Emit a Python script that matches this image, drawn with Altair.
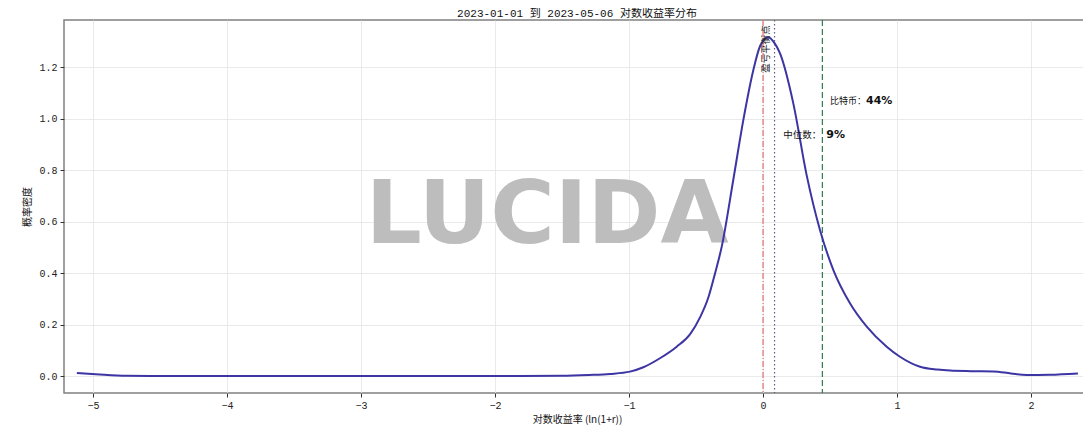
import altair as alt
import pandas as pd

# ---- data ----
curve_x = [-5.12, -4.95, -4.75, -4.5, -3.0, -2.0, -1.5, -1.3, -1.142, -0.993, -0.893, -0.769,
           -0.644, -0.545, -0.47, -0.408, -0.358, -0.308, -0.222, -0.147, -0.072, -0.02, 0.04,
           0.085, 0.127, 0.226, 0.326, 0.425, 0.525, 0.649, 0.774, 0.923, 1.022, 1.172, 1.3,
           1.396, 1.55, 1.72, 1.85, 1.968, 2.14, 2.35]
curve_y = [0.012, 0.006, 0.001, 0.0, 0.0, 0.0, 0.001, 0.004, 0.008, 0.017, 0.034, 0.069,
           0.114, 0.162, 0.228, 0.305, 0.399, 0.503, 0.762, 0.995, 1.19, 1.285, 1.317,
           1.295, 1.254, 1.06, 0.78, 0.568, 0.412, 0.283, 0.192, 0.114, 0.075, 0.036, 0.025,
           0.021, 0.019, 0.018, 0.01, 0.004, 0.005, 0.01]

zero_x = [0.0]
median_x = [0.086]
btc_x = [0.443]

x_ticks = [-5, -4, -3, -2, -1, 0, 1, 2]
y_ticks = [0.0, 0.2, 0.4, 0.6, 0.8, 1.0, 1.2]

title_text = "2023-01-01 到 2023-05-06 对数收益率分布"
x_title = "对数收益率 (ln(1+r))"
y_title = "概率密度"

MONO = "Liberation Mono, Noto Sans CJK SC"
CJK = "Noto Sans CJK SC"

df = pd.DataFrame({"x": curve_x, "y": curve_y})

xs = alt.Scale(domain=[-5.216, 2.44], nice=False, zero=False)
ys = alt.Scale(domain=[-0.066, 1.384], nice=False, zero=False)

xenc = alt.X("x:Q", scale=xs,
             axis=alt.Axis(values=x_ticks, format="d", title=x_title, grid=True,
                           titleFont=CJK, titleFontSize=10, titleFontWeight="normal",
                           titlePadding=4))
yenc = alt.Y("y:Q", scale=ys,
             axis=alt.Axis(values=y_ticks, format=".1f", title=y_title, grid=True,
                           titleFont=CJK, titleFontSize=10, titleFontWeight="normal",
                           titlePadding=6))

# watermark
wm = alt.Chart(pd.DataFrame({"x": [-1.61], "y": [0.618], "t": ["LUCIDA"]})).mark_text(
    font="DejaVu Sans", fontWeight="bold", fontSize=88, color="#bdbdbd",
    align="center", baseline="middle"
).encode(x=xenc, y=yenc, text="t:N")

line = alt.Chart(df).mark_line(color="#3c35a3", strokeWidth=2, interpolate="monotone").encode(
    x=xenc, y=yenc)

def vrule(xv, color, dash, width=1.2):
    return alt.Chart(pd.DataFrame({"x": xv})).mark_rule(
        color=color, strokeDash=dash, strokeWidth=width
    ).encode(x=alt.X("x:Q", scale=xs), y=alt.value(0), y2=alt.value(373))

r0 = vrule(zero_x, "#e07070", [6, 2, 1, 2])
r1 = vrule(median_x, "#6a5a7a", [1.5, 2.5])
r2 = vrule(btc_x, "#2f7d52", [6, 3])

def label(xv, yv, t, size, weight="normal", dx=0, font=CJK):
    return alt.Chart(pd.DataFrame({"x": [xv], "y": [yv], "t": [t]})).mark_text(
        font=font, fontSize=size, fontWeight=weight, color="#111", align="left",
        baseline="middle", dx=dx
    ).encode(x=alt.X("x:Q", scale=xs), y=alt.Y("y:Q", scale=ys), text="t:N")

l1 = label(0.5, 1.07, "比特币：", 9)
l2 = label(0.5, 1.07, "44%", 11, "bold", dx=36, font="DejaVu Sans")
l3 = label(0.151, 0.937, "中位数：", 9.5)
l4 = label(0.151, 0.937, "9%", 11, "bold", dx=43, font="DejaVu Sans")

vt = alt.Chart(pd.DataFrame({"x": [0.022], "y": [1.364], "t": ["盈亏平衡点"]})).mark_text(
    font=CJK, fontSize=9.5, color="#222", angle=270, align="right", baseline="middle"
).encode(x=alt.X("x:Q", scale=xs), y=alt.Y("y:Q", scale=ys), text="t:N")

chart = alt.layer(wm, r0, r1, r2, line, l1, l2, l3, l4, vt).properties(
    width=1026, height=373,
    title=alt.TitleParams(title_text, font=MONO, fontSize=11, fontWeight="normal",
                          color="#111", anchor="middle", offset=0),
    autosize=alt.AutoSizeParams(type="none"),
    padding={"left": 56, "top": 12, "right": -7, "bottom": 32},
).configure_view(
    stroke="#808080", strokeWidth=1.5
).configure_axis(
    domain=False, gridColor="#e4e4e4", gridWidth=0.8,
    tickColor="#333", tickSize=4, labelFont=MONO, labelFontSize=10, labelColor="#222",
    titleColor="#111", labelPadding=3
)

chart.save("out.html", embed_options={"renderer": "svg", "actions": False})
